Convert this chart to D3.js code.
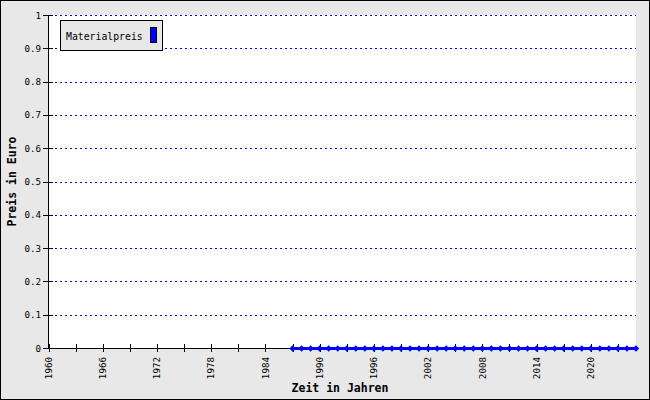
<!DOCTYPE html>
<html><head><meta charset="utf-8">
<script src="https://cdn.jsdelivr.net/npm/d3@7"></script>
<style>body{margin:0;background:#fff}svg{display:block}</style>
</head><body>
<script>
const years = [1987,1988,1989,1990,1991,1992,1993,1994,1995,1996,1997,1998,1999,2000,2001,2002,2003,2004,2005,2006,2007,2008,2009,2010,2011,2012,2013,2014,2015,2016,2017,2018,2019,2020,2021,2022,2023,2024,2025];
const materialpreis = [0,0,0,0,0,0,0,0,0,0,0,0,0,0,0,0,0,0,0,0,0,0,0,0,0,0,0,0,0,0,0,0,0,0,0,0,0,0,0];
const yTicks = [0,0.1,0.2,0.3,0.4,0.5,0.6,0.7,0.8,0.9,1];
const xTickYears = d3.range(1960, 2024, 3);
const xLabelYears = [1960,1966,1972,1978,1984,1990,1996,2002,2008,2014,2020];
const seriesName = "Materialpreis";
const xTitle = "Zeit in Jahren";
const yTitle = "Preis in Euro";

const W = 650, H = 400;
const mono = "'DejaVu Sans Mono', 'Liberation Mono', monospace";
const svg = d3.select("body").append("svg").attr("width", W).attr("height", H);
svg.append("rect").attr("x",0.5).attr("y",0.5).attr("width",W-1).attr("height",H-1)
  .attr("fill","#e8e8e8").attr("stroke","#000");

const x = d3.scaleLinear().domain([1960, 2025]).range([48.5, 636]);
const y = d3.scaleLinear().domain([0, 1]).range([348, 15]);

svg.append("rect").attr("x",48.5).attr("y",15).attr("width",636-48.5).attr("height",333).attr("fill","#fff");

// grid
svg.append("g").selectAll("line").data(yTicks.filter(d=>d>0)).join("line")
  .attr("x1", 50).attr("x2", 636)
  .attr("y1", d=>Math.round(y(d))+0.5).attr("y2", d=>Math.round(y(d))+0.5)
  .attr("stroke","#0000ff").attr("stroke-width",1).attr("stroke-dasharray","2,3");

// y axis
const ya = svg.append("g");
ya.append("line").attr("x1",48.5).attr("x2",48.5).attr("y1",15).attr("y2",348).attr("stroke","#000");
ya.selectAll("line.t").data(yTicks).join("line").attr("class","t")
  .attr("x1",43).attr("x2",53).attr("y1",d=>Math.round(y(d))+0.5).attr("y2",d=>Math.round(y(d))+0.5).attr("stroke","#000");
ya.selectAll("text").data(yTicks).join("text")
  .attr("x",41).attr("y",d=>y(d)+3.5).attr("text-anchor","end")
  .attr("font-family",mono).attr("font-size","9.2px").attr("fill","#000").text(d=>d3.format("~g")(d));

// x axis
const xa = svg.append("g");
xa.append("line").attr("x1",48.5).attr("x2",636).attr("y1",348.5).attr("y2",348.5).attr("stroke","#000");
xa.selectAll("line.t").data(xTickYears).join("line").attr("class","t")
  .attr("x1",d=>Math.round(x(d))+0.5).attr("x2",d=>Math.round(x(d))+0.5).attr("y1",344).attr("y2",352).attr("stroke","#000");
xa.selectAll("text").data(xLabelYears).join("text")
  .attr("transform",d=>`translate(${x(d)+3.3},357) rotate(-90)`).attr("text-anchor","end")
  .attr("font-family",mono).attr("font-size","9.2px").attr("fill","#000").text(d=>d);

// titles
svg.append("text").attr("x",340).attr("y",392).attr("text-anchor","middle")
  .attr("font-family",mono).attr("font-weight","bold").attr("font-size","11.5px").text(xTitle);
svg.append("text").attr("transform","translate(16,181.5) rotate(-90)").attr("text-anchor","middle")
  .attr("font-family",mono).attr("font-weight","bold").attr("font-size","11.5px").text(yTitle);

// series
const pts = years.map((yr,i)=>({yr, v: materialpreis[i]}));
svg.append("path").datum(pts)
  .attr("d", d3.line().x(d=>x(d.yr)).y(d=>y(d.v)+0.5))
  .attr("fill","none").attr("stroke","#0000ff").attr("stroke-width",3);
svg.append("g").selectAll("path").data(pts).join("path")
  .attr("transform", d=>`translate(${x(d.yr)},${y(d.v)+0.5})`)
  .attr("d", d3.symbol(d3.symbolDiamond2, 26)())
  .attr("fill","#0000ff");

// legend
const lg = svg.append("g");
lg.append("rect").attr("x",60.5).attr("y",20.5).attr("width",102).attr("height",30)
  .attr("fill","#e8e8e8").attr("stroke","#000");
lg.append("text").attr("x",66).attr("y",40.3).attr("font-family",mono).attr("font-size","9.8px").text(seriesName);
lg.append("rect").attr("x",150.5).attr("y",27.5).attr("width",6).attr("height",15)
  .attr("fill","#0000ff").attr("stroke","#000");
</script>
</body></html>
